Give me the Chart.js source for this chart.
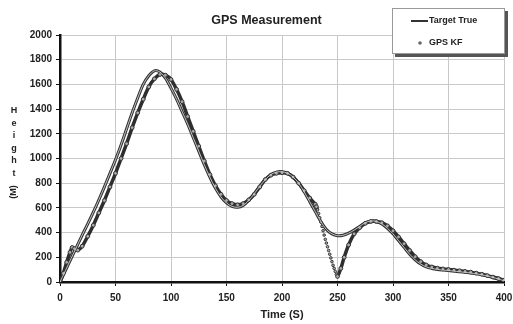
<!DOCTYPE html>
<html>
<head>
<meta charset="utf-8">
<script src="https://cdn.jsdelivr.net/npm/chart.js@4/dist/chart.umd.min.js"></script>
<style>
  html, body { margin: 0; padding: 0; background: #fff; }
  #wrap { width: 513px; height: 324px; }
</style>
</head>
<body>
<div id="wrap"><canvas id="gps"></canvas></div>
<script>
// target true trajectory
const trueTime = [0, 5, 10, 15, 20, 25, 30, 35, 40, 45, 50, 55, 60, 65, 70, 75, 80, 85, 90, 95,
  100, 105, 110, 115, 120, 125, 130, 135, 140, 145, 150, 155, 160, 165, 170, 175, 180, 185, 190, 195,
  200, 205, 210, 215, 220, 225, 230, 235, 240, 245, 250, 255, 260, 265, 270, 275, 280, 285, 290, 295,
  300, 305, 310, 315, 320, 325, 330, 335, 340, 345, 350, 355, 360, 365, 370, 375, 380, 385, 390, 395, 400];
const trueHeight = [0, 95, 190, 285, 380, 470, 565, 665, 770, 880, 990, 1110, 1240, 1370, 1490, 1600, 1670, 1710, 1700, 1650,
  1570, 1480, 1380, 1280, 1170, 1060, 950, 850, 760, 690, 640, 612, 605, 620, 660, 715, 775, 830, 870, 890,
  893, 880, 850, 800, 730, 650, 570, 490, 425, 390, 375, 378, 395, 420, 450, 480, 495, 490, 470, 435,
  390, 335, 280, 225, 180, 145, 122, 110, 102, 97, 93, 88, 83, 78, 73, 66, 58, 48, 37, 24, 10];

// GPS KF estimate
const kfTime = [0, 3, 6, 9, 11, 13, 16, 20, 25, 30, 35, 40, 45, 50, 55, 60, 65, 70, 75, 80, 85, 90, 95,
  100, 105, 110, 115, 120, 125, 130, 135, 140, 145, 150, 155, 160, 165, 170, 175, 180, 185, 190, 195,
  200, 205, 210, 215, 220, 225, 230, 231, 232, 233, 234, 235, 236, 237, 238, 239, 240, 241, 242, 243, 244, 245, 246, 247, 248, 249,
  250, 253, 256, 260, 265, 270, 275, 280, 285, 290, 295,
  300, 305, 310, 315, 320, 325, 330, 335, 340, 345, 350, 355, 360, 365, 370, 375, 380, 385, 390, 395, 400];
const kfHeight = [0, 70, 160, 240, 280, 270, 258, 290, 370, 460, 560, 660, 770, 880, 1000, 1120, 1250, 1370, 1480, 1580, 1645, 1680, 1675,
  1640, 1560, 1460, 1340, 1220, 1100, 980, 870, 780, 710, 660, 635, 625, 635, 665, 710, 770, 830, 865, 880,
  885, 880, 850, 800, 740, 680, 630, 610, 585, 555, 520, 485, 450, 415, 380, 345, 315, 285, 255, 225, 195, 165, 135, 110, 85, 62,
  45, 110, 200, 300, 390, 440, 475, 490, 490, 480, 455,
  415, 365, 310, 255, 205, 165, 138, 122, 112, 106, 101, 96, 91, 86, 80, 72, 63, 52, 40, 28, 15];

const xTicks = [0, 50, 100, 150, 200, 250, 300, 350, 400];
const yLabelLetters = ['H', 'e', 'i', 'g', 'h', 't'];

const toPts = (xs, ys) => xs.map((x, i) => ({ x: x, y: ys[i] }));
const boldFont = (size) => ({ family: "'Liberation Sans', Arial, sans-serif", size: size, weight: 'bold' });

// stacked y label + floating legend box
const extras = {
  id: 'extras',
  afterDraw(chart) {
    const ctx = chart.ctx;
    ctx.save();
    ctx.fillStyle = '#222';
    ctx.font = "bold 9px 'Liberation Sans', Arial, sans-serif";
    ctx.textAlign = 'center';
    ctx.textBaseline = 'middle';
    yLabelLetters.forEach((ch, i) => ctx.fillText(ch, 14, 111 + i * 12.5));
    ctx.translate(14, 192);
    ctx.rotate(-Math.PI / 2);
    ctx.fillText('(M)', 0, 0);
    ctx.restore();

    // legend
    ctx.save();
    ctx.fillStyle = '#555';
    ctx.fillRect(395, 11, 113, 46);
    ctx.fillStyle = '#fff';
    ctx.fillRect(392, 8, 113, 46);
    ctx.strokeStyle = '#999';
    ctx.lineWidth = 1;
    ctx.strokeRect(392.5, 8.5, 112, 45);

    ctx.strokeStyle = '#333';
    ctx.lineWidth = 2;
    ctx.beginPath();
    ctx.moveTo(411, 21);
    ctx.lineTo(428, 21);
    ctx.stroke();

    ctx.fillStyle = '#666';
    ctx.beginPath();
    ctx.arc(420, 43, 1.8, 0, Math.PI * 2);
    ctx.fill();

    ctx.fillStyle = '#222';
    ctx.font = "bold 9px 'Liberation Sans', Arial, sans-serif";
    ctx.textAlign = 'left';
    ctx.textBaseline = 'middle';
    ctx.fillText(chart.data.datasets[0].label, 429, 21);
    ctx.fillText(chart.data.datasets[2].label, 429, 43);
    ctx.restore();
  }
};

new Chart(document.getElementById('gps'), {
  type: 'scatter',
  data: {
    datasets: [
      { label: 'Target True', data: toPts(trueTime, trueHeight), showLine: true, borderColor: '#d0d0d0', borderWidth: 0.9,
        pointRadius: 0, tension: 0.3, order: 1 },
      { label: 'true outline', data: toPts(trueTime, trueHeight), showLine: true, borderColor: '#333', borderWidth: 3,
        pointRadius: 0, tension: 0.3, order: 3 },
      { label: 'GPS KF', data: toPts(kfTime, kfHeight), showLine: true, borderColor: '#2e2e2e', borderWidth: 3.5,
        pointRadius: c => (c.raw && c.raw.x > 231 && c.raw.x < 250) ? 1.3 : 1.9,
        pointBorderWidth: 1, pointBorderColor: '#333', pointBackgroundColor: '#aaa',
        tension: 0.3, order: 2,
        segment: { borderColor: c => (c.p0.parsed.x >= 232 && c.p1.parsed.x <= 250) ? 'rgba(0,0,0,0)' : undefined } }
    ]
  },
  options: {
    responsive: true,
    maintainAspectRatio: false,
    animation: false,
    layout: { padding: { left: 20, right: 0, top: 8, bottom: 2 } },
    plugins: {
      legend: { display: false },
      tooltip: { enabled: false },
      title: { display: true, text: 'GPS Measurement', color: '#222', font: boldFont(12.5), padding: { top: 5, bottom: 7 } }
    },
    scales: {
      x: {
        type: 'linear', min: 0, max: 400,
        afterBuildTicks: s => { s.ticks = xTicks.map(v => ({ value: v })); },
        afterFit: s => { s.height = 40; s.paddingRight = 9; s.paddingLeft = 0; },
        grid: { color: '#c9c9c9', lineWidth: 1, tickColor: '#111', tickLength: 4 },
        border: { color: '#111', width: 2.5 },
        ticks: { color: '#222', font: boldFont(10), padding: 6, maxRotation: 0 },
        title: { display: true, text: 'Time (S)', color: '#222', font: boldFont(11), padding: { top: 2, bottom: 0 } }
      },
      y: {
        min: 0, max: 2000,
        afterFit: s => { s.width = 40; },
        grid: { color: '#c9c9c9', lineWidth: 1, tickColor: '#111', tickLength: 4 },
        border: { color: '#111', width: 2.5 },
        ticks: { stepSize: 200, color: '#222', font: boldFont(10), padding: 4, callback: v => String(v) }
      }
    }
  },
  plugins: [extras]
});
</script>
</body>
</html>
